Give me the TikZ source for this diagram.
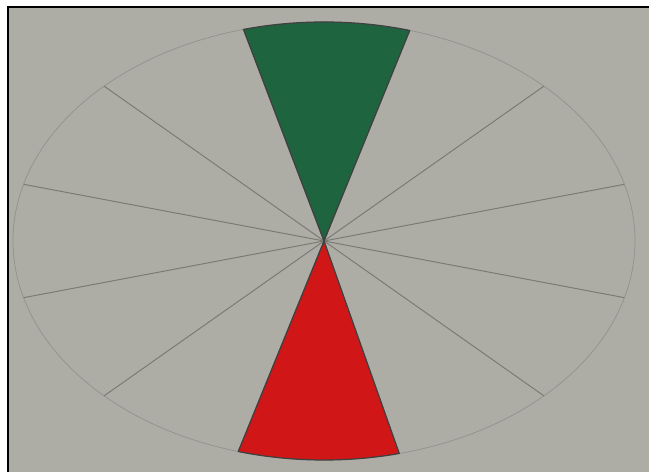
\documentclass[tikz,border=0pt]{standalone}
\usepackage{tikz}
\definecolor{papercol}{RGB}{173,173,166}
\definecolor{pencilcol}{RGB}{122,122,115}
\definecolor{rimcol}{RGB}{146,146,140}
\definecolor{greencol}{RGB}{29,100,63}
\definecolor{redcol}{RGB}{208,22,22}
\tikzset{spoke/.style={pencilcol, line width=0.55pt},
  sector/.style={draw=black!75, line width=0.7pt, line join=round}}

\begin{document}
\begin{tikzpicture}[x=0.02cm, y=0.02cm]

  % Page and frame.
  \useasboundingbox (0,0) rectangle (649,472);
  \fill[white] (0,0) rectangle (649,472);
  \fill[papercol] (8,0) rectangle (649,465);
  \draw[line width=1.2pt] (8,0) -- (8,465) -- (649,465);

  % Centre of the disc.
  \coordinate (C) at (324,231);

  % Rim.
  \draw[rimcol, line width=0.4pt] (C) ellipse [x radius=311, y radius=219];

  % Spokes.
  \foreach \t in {15,45,74,105,135,165,195,225,254,284,315,345} {
    \draw[spoke] (C) -- ++(\t:311 and 219);
  }

  % Green sector (top).
  \filldraw[sector, fill=greencol] (C) -- ++(74:311 and 219)
    arc[start angle=74, end angle=105, x radius=311, y radius=219] -- cycle;

  % Red sector (bottom).
  \filldraw[sector, fill=redcol] (C) -- ++(254:311 and 219)
    arc[start angle=254, end angle=284, x radius=311, y radius=219] -- cycle;

\end{tikzpicture}
\end{document}
